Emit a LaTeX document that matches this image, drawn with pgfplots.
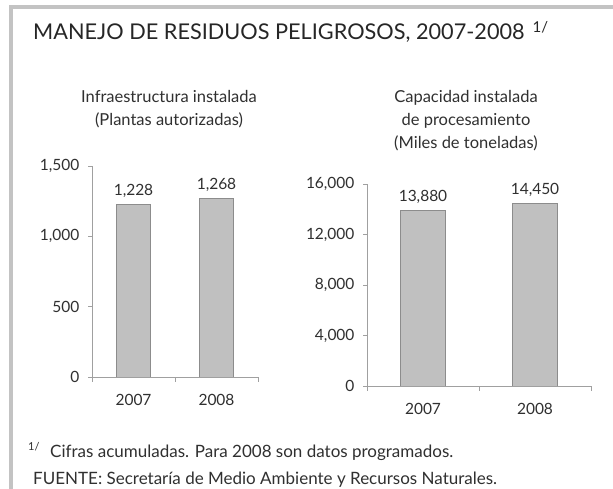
\documentclass[border=0pt]{standalone}
\usepackage{fontspec}
\setmainfont{Lato}
\usepackage{pgfplots}
\pgfplotsset{compat=1.18}
\definecolor{barfill}{HTML}{C0C0C0}
\definecolor{baredge}{HTML}{8C8C8C}
\definecolor{axisgray}{HTML}{A0A0A0}
\definecolor{txt}{HTML}{303030}
\definecolor{framegray}{HTML}{C3C3C3}
\pgfkeys{/pgf/number format/.cd,1000 sep={,},assume math mode=true}
\pgfplotsset{
  mybar/.style={
    scale only axis,
    axis x line=bottom, axis y line=left,
    axis line style={axisgray, line width=0.8pt, -},
    xmin=0, xmax=2, ymin=0,
    xtick={0.5,1.5}, xticklabels={2007,2008},
    minor xtick={0,1,2},
    major x tick style={draw=none},
    minor x tick style={axisgray, line width=0.8pt},
    y tick style={axisgray, line width=0.8pt},
    tick align=outside,
    major tick length=4pt, minor tick length=5pt,
    scaled y ticks=false,
    ticklabel style={font=\fontsize{15.5}{18}\selectfont, text=txt},
    yticklabel style={xshift=-5pt},
    xticklabel style={yshift=-10pt},
    ybar, 
    nodes near coords,
    nodes near coords style={font=\fontsize{15.5}{18}\selectfont, text=txt, anchor=south, yshift=3pt},
  }
}
\begin{document}
\begin{tikzpicture}[x=1pt,y=1pt]
\path[use as bounding box] (0,0) rectangle (613,489);
\fill[white] (0,0) rectangle (613,489);
\draw[framegray, line width=4pt] (11.4,0) -- (11.4,482) -- (613,482);
\node[anchor=base west, text=black!85, font=\fontsize{21.7}{26}\selectfont, inner sep=0] at (33,449) {MANEJO DE RESIDUOS PELIGROSOS, 2007-2008\hspace{8pt}\raisebox{7pt}{\fontsize{15}{18}\selectfont 1/}};
\node[anchor=base, text=txt, font=\fontsize{16.5}{19}\selectfont, inner sep=0] at (169,386) {Infraestructura instalada};
\node[anchor=base, text=txt, font=\fontsize{16.5}{19}\selectfont, inner sep=0] at (169,363) {(Plantas autorizadas)};
\node[anchor=base, text=txt, font=\fontsize{16.5}{19}\selectfont, inner sep=0] at (466,386) {Capacidad instalada};
\node[anchor=base, text=txt, font=\fontsize{16.5}{19}\selectfont, inner sep=0] at (466,363) {de procesamiento};
\node[anchor=base, text=txt, font=\fontsize{16.5}{19}\selectfont, inner sep=0] at (466,340) {(Miles de toneladas)};
\node[anchor=base west, text=txt, font=\fontsize{11}{12}\selectfont, inner sep=0] at (28,38) {1/};
\node[anchor=base west, text=txt, font=\fontsize{17}{20}\selectfont, inner sep=0] at (50,31) {Cifras acumuladas. Para 2008 son datos programados.};
\node[anchor=base west, text=txt, font=\fontsize{17}{20}\selectfont, inner sep=0] at (33,4) {FUENTE: Secretaría de Medio Ambiente y Recursos Naturales.};
\begin{axis}[mybar, at={(92pt,112pt)}, anchor=south west, width=166pt, height=211pt,
  ymax=1500, ytick={0,500,1000,1500}, bar width=34pt]
\addplot[fill=barfill, draw=baredge, line width=0.8pt] coordinates {(0.5,1228) (1.5,1268)};
\end{axis}
\begin{axis}[mybar, at={(367pt,103pt)}, anchor=south west, width=224pt, height=202pt,
  ymax=16000, ytick={0,4000,8000,12000,16000}, bar width=45pt]
\addplot[fill=barfill, draw=baredge, line width=0.8pt] coordinates {(0.5,13880) (1.5,14450)};
\end{axis}
\end{tikzpicture}
\end{document}
